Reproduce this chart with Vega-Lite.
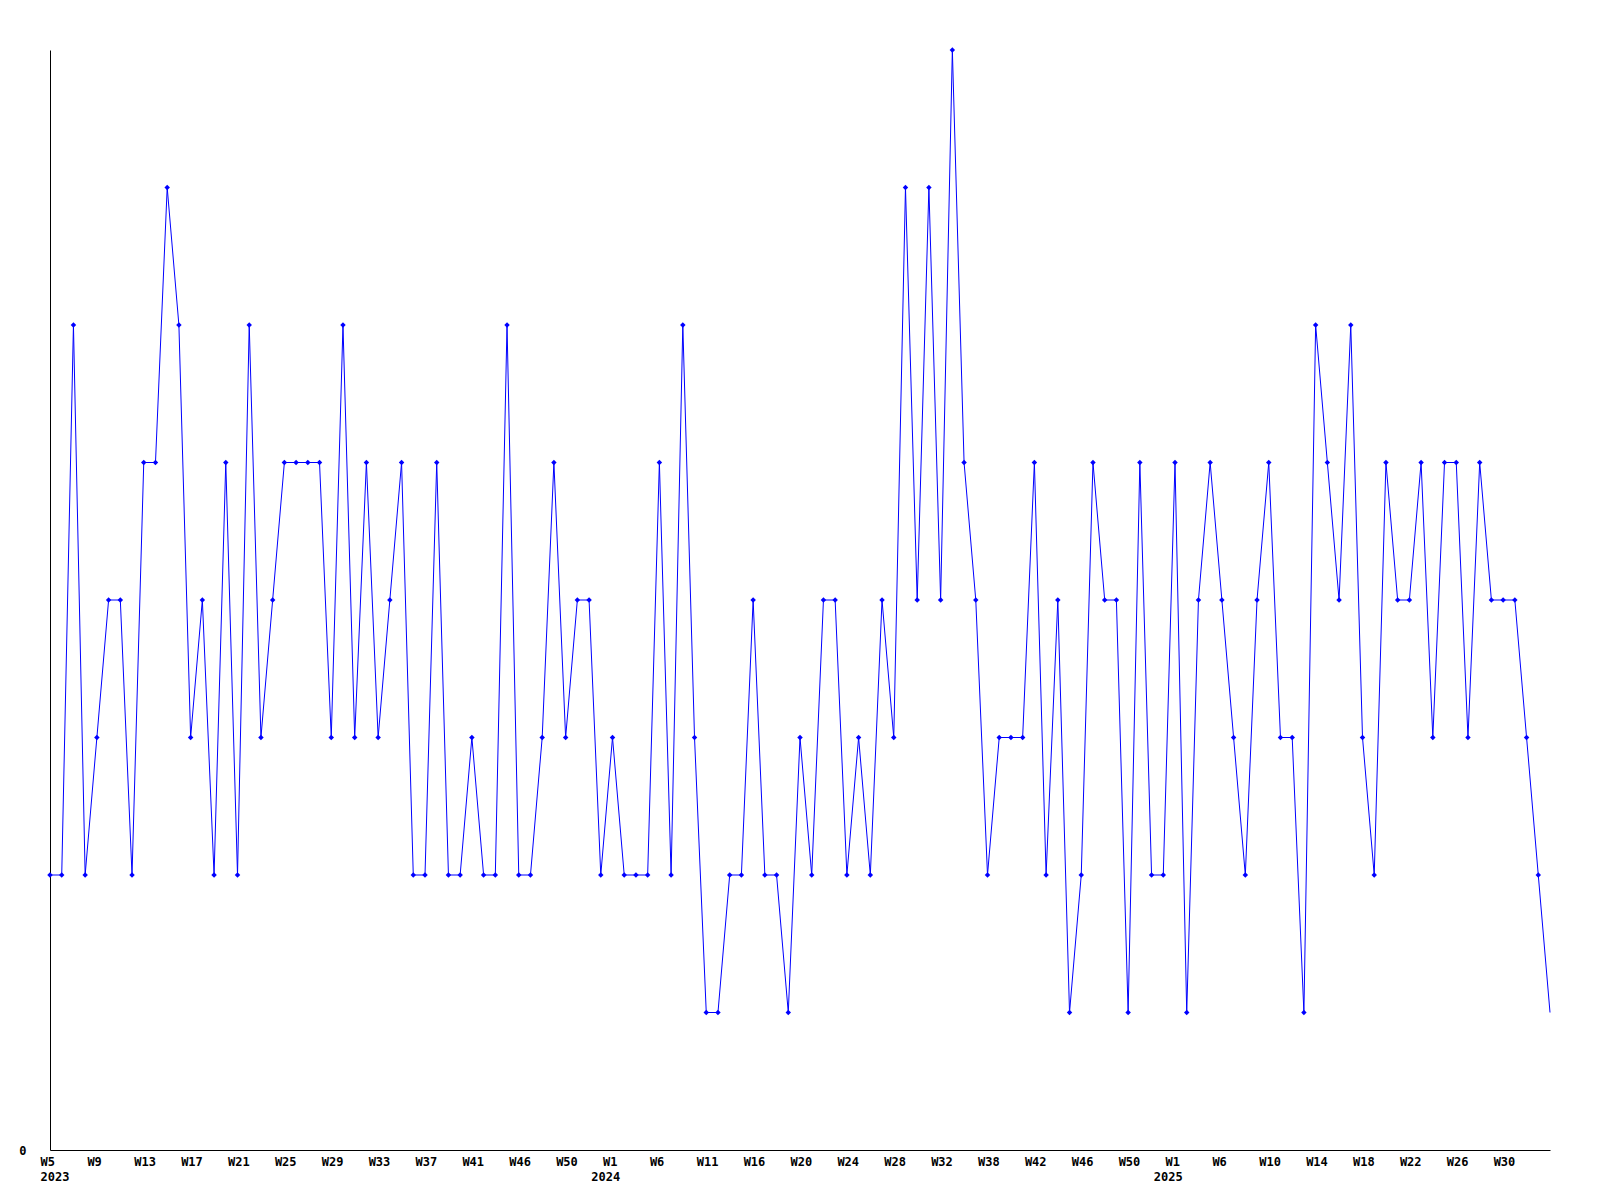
{
  "$schema": "https://vega.github.io/schema/vega-lite/v6.json",
  "autosize": {"type": "none"},
  "padding": {"left": 50, "top": 50, "right": 50, "bottom": 50},
  "width": 1500,
  "height": 1100,
  "background": "white",
  "config": {"view": {"stroke": null}},
  "data": {"values": [
    {"w":"2023-W05","v":2},{"w":"2023-W06","v":2},{"w":"2023-W07","v":6},{"w":"2023-W08","v":2},{"w":"2023-W09","v":3},
    {"w":"2023-W10","v":4},{"w":"2023-W11","v":4},{"w":"2023-W12","v":2},{"w":"2023-W13","v":5},{"w":"2023-W14","v":5},
    {"w":"2023-W15","v":7},{"w":"2023-W16","v":6},{"w":"2023-W17","v":3},{"w":"2023-W18","v":4},{"w":"2023-W19","v":2},
    {"w":"2023-W20","v":5},{"w":"2023-W21","v":2},{"w":"2023-W22","v":6},{"w":"2023-W23","v":3},{"w":"2023-W24","v":4},
    {"w":"2023-W25","v":5},{"w":"2023-W26","v":5},{"w":"2023-W27","v":5},{"w":"2023-W28","v":5},{"w":"2023-W29","v":3},
    {"w":"2023-W30","v":6},{"w":"2023-W31","v":3},{"w":"2023-W32","v":5},{"w":"2023-W33","v":3},{"w":"2023-W34","v":4},
    {"w":"2023-W35","v":5},{"w":"2023-W36","v":2},{"w":"2023-W37","v":2},{"w":"2023-W38","v":5},{"w":"2023-W39","v":2},
    {"w":"2023-W40","v":2},{"w":"2023-W41","v":3},{"w":"2023-W42","v":2},{"w":"2023-W43","v":2},{"w":"2023-W44","v":6},
    {"w":"2023-W46","v":2},{"w":"2023-W47","v":2},{"w":"2023-W48","v":3},{"w":"2023-W49","v":5},{"w":"2023-W50","v":3},
    {"w":"2023-W51","v":4},{"w":"2023-W52","v":4},{"w":"2023-W53","v":2},
    {"w":"2024-W01","v":3},{"w":"2024-W02","v":2},{"w":"2024-W03","v":2},{"w":"2024-W04","v":2},{"w":"2024-W06","v":5},
    {"w":"2024-W07","v":2},{"w":"2024-W08","v":6},{"w":"2024-W09","v":3},{"w":"2024-W11","v":1},{"w":"2024-W12","v":1},
    {"w":"2024-W13","v":2},{"w":"2024-W14","v":2},{"w":"2024-W16","v":4},{"w":"2024-W17","v":2},{"w":"2024-W18","v":2},
    {"w":"2024-W19","v":1},{"w":"2024-W20","v":3},{"w":"2024-W21","v":2},{"w":"2024-W22","v":4},{"w":"2024-W23","v":4},
    {"w":"2024-W24","v":2},{"w":"2024-W25","v":3},{"w":"2024-W26","v":2},{"w":"2024-W27","v":4},{"w":"2024-W28","v":3},
    {"w":"2024-W29","v":7},{"w":"2024-W30","v":4},{"w":"2024-W31","v":7},{"w":"2024-W32","v":4},{"w":"2024-W33","v":8},
    {"w":"2024-W34","v":5},{"w":"2024-W35","v":4},{"w":"2024-W38","v":2},{"w":"2024-W39","v":3},{"w":"2024-W40","v":3},
    {"w":"2024-W41","v":3},{"w":"2024-W42","v":5},{"w":"2024-W43","v":2},{"w":"2024-W44","v":4},{"w":"2024-W45","v":1},
    {"w":"2024-W46","v":2},{"w":"2024-W47","v":5},{"w":"2024-W48","v":4},{"w":"2024-W49","v":4},{"w":"2024-W50","v":1},
    {"w":"2024-W51","v":5},{"w":"2024-W52","v":2},{"w":"2024-W53","v":2},
    {"w":"2025-W01","v":5},{"w":"2025-W02","v":1},{"w":"2025-W03","v":4},{"w":"2025-W04","v":5},{"w":"2025-W06","v":4},
    {"w":"2025-W07","v":3},{"w":"2025-W08","v":2},{"w":"2025-W09","v":4},{"w":"2025-W10","v":5},{"w":"2025-W11","v":3},
    {"w":"2025-W12","v":3},{"w":"2025-W13","v":1},{"w":"2025-W14","v":6},{"w":"2025-W15","v":5},{"w":"2025-W16","v":4},
    {"w":"2025-W17","v":6},{"w":"2025-W18","v":3},{"w":"2025-W19","v":2},{"w":"2025-W20","v":5},{"w":"2025-W21","v":4},
    {"w":"2025-W22","v":4},{"w":"2025-W23","v":5},{"w":"2025-W24","v":3},{"w":"2025-W25","v":5},{"w":"2025-W26","v":5},
    {"w":"2025-W27","v":3},{"w":"2025-W28","v":5},{"w":"2025-W29","v":4},{"w":"2025-W30","v":4},{"w":"2025-W31","v":4},
    {"w":"2025-W32","v":3},{"w":"2025-W33","v":2},{"w":"2025-W34","v":1}
  ]},
  "resolve": {"axis": {"x": "independent"}},
  "encoding": {
    "y": {
      "field": "v", "type": "quantitative",
      "scale": {"domain": [0, 8], "nice": false, "zero": true},
      "axis": {
        "title": null,
        "values": [0],
        "format": "d",
        "ticks": false,
        "grid": false,
        "labelPadding": 24,
        "labelFont": "DejaVu Sans Mono",
        "labelFontSize": 12,
        "labelFontWeight": "bold",
        "labelColor": "black",
        "labelFlush": false,
        "domainColor": "black",
        "domainWidth": 1
      }
    }
  },
  "layer": [
    {
      "mark": {"type": "line", "color": "#0000ff", "strokeWidth": 1},
      "encoding": {
        "x": {
          "field": "w", "type": "ordinal", "sort": null,
          "scale": {"type": "point", "padding": 0},
          "axis": {
            "orient": "bottom",
            "title": null,
            "values": ["2023-W05","2023-W09","2023-W13","2023-W17","2023-W21","2023-W25","2023-W29","2023-W33","2023-W37","2023-W41","2023-W46","2023-W50",
                       "2024-W01","2024-W06","2024-W11","2024-W16","2024-W20","2024-W24","2024-W28","2024-W32","2024-W38","2024-W42","2024-W46","2024-W50",
                       "2025-W01","2025-W06","2025-W10","2025-W14","2025-W18","2025-W22","2025-W26","2025-W30"],
            "labelExpr": "'W' + toNumber(slice(datum.value, 6))",
            "labelAngle": 0,
            "labelAlign": "left",
            "labelOffset": -10,
            "labelBaseline": "top",
            "labelPadding": 6,
            "labelFont": "DejaVu Sans Mono",
            "labelFontSize": 12,
            "labelFontWeight": "bold",
            "labelColor": "black",
            "labelOverlap": false,
            "labelFlush": false,
            "ticks": false,
            "grid": false,
            "domainColor": "black",
            "domainWidth": 1
          }
        }
      }
    },
    {
      "transform": [{"filter": "datum.w != '2025-W34'"}],
      "mark": {"type": "point", "shape": "diamond", "filled": true, "size": 30, "color": "#0000ff", "opacity": 1},
      "encoding": {
        "x": {
          "field": "w", "type": "ordinal", "sort": null,
          "axis": {
            "orient": "bottom",
            "title": null,
            "values": ["2023-W05","2023-W53","2024-W53"],
            "labelExpr": "datum.value == '2023-W05' ? '2023' : toString(toNumber(slice(datum.value, 0, 4)) + 1)",
            "labelAngle": 0,
            "labelAlign": "left",
            "labelOffset": -10,
            "labelBaseline": "top",
            "labelPadding": 21,
            "labelFont": "DejaVu Sans Mono",
            "labelFontSize": 12,
            "labelFontWeight": "bold",
            "labelColor": "black",
            "labelOverlap": false,
            "labelFlush": false,
            "ticks": false,
            "grid": false,
            "domain": false
          }
        }
      }
    }
  ]
}
